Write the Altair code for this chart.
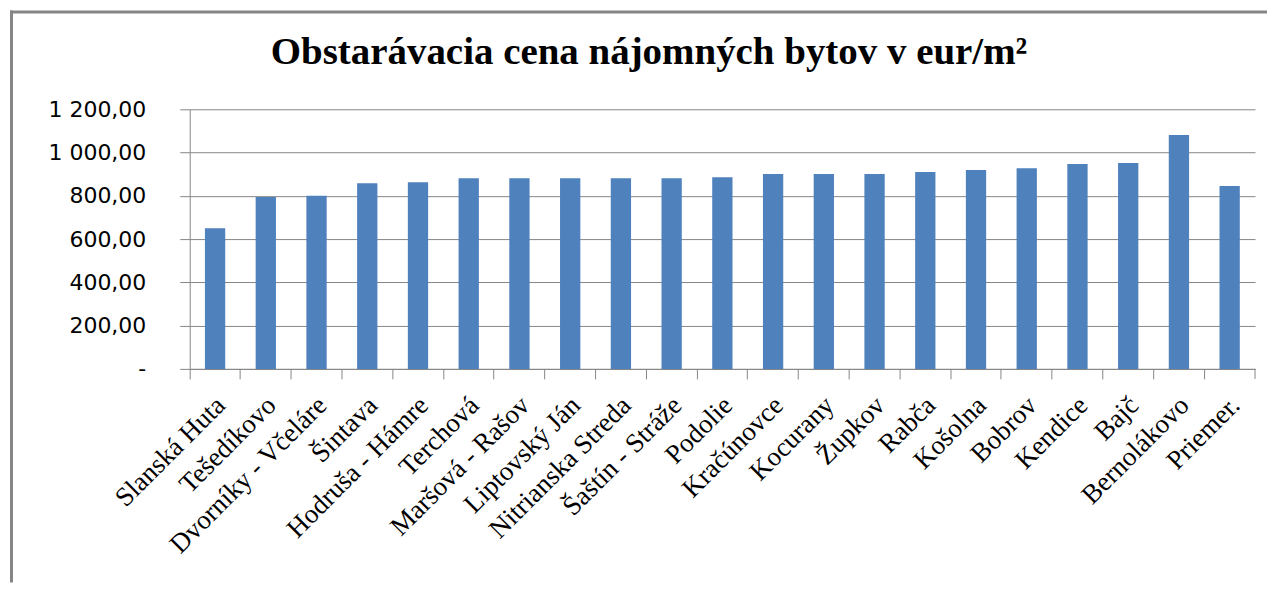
import altair as alt
import pandas as pd

categories = ["Slanská Huta", "Tešedíkovo", "Dvorníky - Včeláre", "Šintava", "Hodruša - Hámre",
              "Terchová", "Maršová - Rašov", "Liptovský Ján", "Nitrianska Streda", "Šaštín - Stráže",
              "Podolie", "Kračúnovce", "Kocurany", "Župkov", "Rabča", "Košolna", "Bobrov",
              "Kendice", "Bajč", "Bernolákovo", "Priemer."]
values = [650, 794, 800, 858, 863, 881, 881, 881, 881, 881, 886, 901, 901, 901, 910, 919, 928,
          947, 952, 1081, 845]
y_ticks = [0, 200, 400, 600, 800, 1000, 1200]
title_text = "Obstarávacia cena nájomných bytov v eur/m²"

df = pd.DataFrame({"obec": categories, "cena": values})
one = pd.DataFrame({"t": [title_text]})

W, H = 1067, 260
GRID = "#868686"
BAR = "#4f81bd"

label_expr = ("datum.value == 0 ? '-\u00a0\u00a0' : "
              "replace(replace(format(datum.value, ',.2f'), ',', ' '), '.', ',')")

bars = alt.Chart(df).mark_bar(color=BAR, width=alt.RelativeBandSize(0.4)).encode(
    x=alt.X("obec:N", sort=None,
            scale=alt.Scale(paddingInner=0, paddingOuter=0),
            axis=alt.Axis(title=None, labelAngle=-45, labelAlign="right", labelBaseline="middle",
                          labelFont="Liberation Serif", labelFontSize=27, labelColor="black",
                          labelPadding=22, labelOffset=6, labelLimit=0,
                          tickSize=10, tickColor=GRID, tickWidth=1,
                          domainColor=GRID, domainWidth=1, bandPosition=0, grid=False,
                          labelOverlap=False)),
    y=alt.Y("cena:Q", scale=alt.Scale(domain=[0, 1200]),
            axis=alt.Axis(values=y_ticks, title=None, labelExpr=label_expr,
                          labelFont="DejaVu Sans", labelFontSize=22, labelColor="black",
                          labelPadding=34, tickSize=10, tickColor=GRID, tickWidth=1,
                          domainColor=GRID, domainWidth=1, grid=True, gridColor=GRID,
                          gridWidth=1, gridOpacity=1)),
)

end_tick = alt.Chart(one).mark_rule(color=GRID, strokeWidth=1).encode(
    x=alt.value(W), y=alt.value(H), y2=alt.value(H + 10))

frame_left = alt.Chart(one).mark_rule(color=GRID, strokeWidth=3).encode(
    x=alt.value(-178.5), y=alt.value(-99), y2=alt.value(474))
frame_top = alt.Chart(one).mark_rule(color=GRID, strokeWidth=3).encode(
    x=alt.value(-180), x2=alt.value(1079), y=alt.value(-97.5))

title = alt.Chart(one).mark_text(font="Liberation Serif", fontSize=39, fontWeight="bold",
                                 color="black", align="center", baseline="alphabetic").encode(
    text="t:N", x=alt.value(460), y=alt.value(-45))

chart = alt.layer(bars, end_tick, frame_left, frame_top, title).properties(
    width=W, height=H, padding=0, background="white"
).configure_view(strokeWidth=0)

chart.save("out.html", embed_options={"renderer": "svg", "actions": False})
